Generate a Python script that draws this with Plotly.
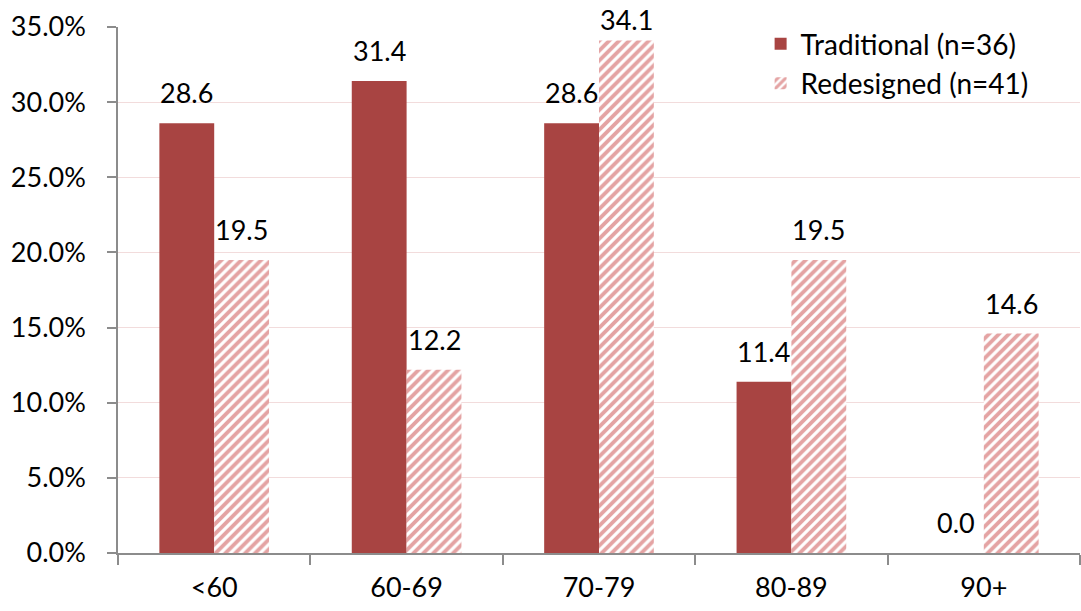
import plotly.graph_objects as go

categories = ["<60", "60-69", "70-79", "80-89", "90+"]
traditional = [28.6, 31.4, 28.6, 11.4, 0.0]
redesigned = [19.5, 12.2, 34.1, 19.5, 14.6]
y_ticks = [0, 5, 10, 15, 20, 25, 30, 35]
y_tick_labels = ["0.0%", "5.0%", "10.0%", "15.0%", "20.0%", "25.0%", "30.0%", "35.0%"]

FONT = "Lato"
DARK = "#A84442"
STRIPE = "#C94848"
FS = 27

fig = go.Figure()
fig.add_trace(go.Bar(
    x=categories, y=traditional, name="Traditional (n=36)",
    legendgroup="a",
    marker=dict(color=DARK, line=dict(width=0)),
))
fig.add_trace(go.Bar(
    x=categories, y=redesigned, name="Redesigned (n=41)",
    legendgroup="b",
    marker=dict(color="white", line=dict(width=0),
                pattern=dict(shape="/", fgcolor=STRIPE, bgcolor="white",
                             size=7, solidity=0.55, fillmode="overlay")),
))

# data labels above bars (labels near the top of the plot are nudged down, as in the original)
for vals, shift in ((traditional, -27.5), (redesigned, 27.5)):
    for c, v in zip(categories, vals):
        ys = 13 if v < 33 else 4
        fig.add_annotation(x=c, y=v, xref="x", yref="y", text=f"{v:.1f}",
                           showarrow=False, xshift=shift, yshift=ys,
                           yanchor="bottom", borderpad=0,
                           font=dict(family=FONT, size=FS, color="#000"))

fig.update_layout(
    width=1081, height=611,
    margin=dict(l=118, r=1, t=27, b=58),
    paper_bgcolor="white", plot_bgcolor="white",
    barmode="group", bargap=0.43, bargroupgap=0,
    font=dict(family=FONT, size=FS, color="#000"),
    showlegend=True,
    legend=dict(x=0.668, y=1.015, xanchor="left", yanchor="top",
                font=dict(family=FONT, size=28), bgcolor="rgba(0,0,0,0)",
                traceorder="grouped", tracegroupgap=0, itemwidth=30),
    xaxis=dict(showline=True, linecolor="#8C8C8C", linewidth=1.5,
               ticks="outside", tickson="boundaries", ticklen=10,
               tickcolor="#8C8C8C", tickwidth=1.5, ticklabelstandoff=10,
               tickfont=dict(family=FONT, size=FS), showgrid=False),
    yaxis=dict(range=[0, 35], tickvals=y_ticks, ticktext=y_tick_labels,
               showline=True, linecolor="#8C8C8C",
               linewidth=1.5, ticks="outside", ticklen=9,
               tickcolor="#8C8C8C", tickwidth=1.5, ticklabelstandoff=16,
               showgrid=True, gridcolor="#F2DCDC", gridwidth=1,
               zeroline=False, tickfont=dict(family=FONT, size=FS)),
)

fig.write_html("out.html")
